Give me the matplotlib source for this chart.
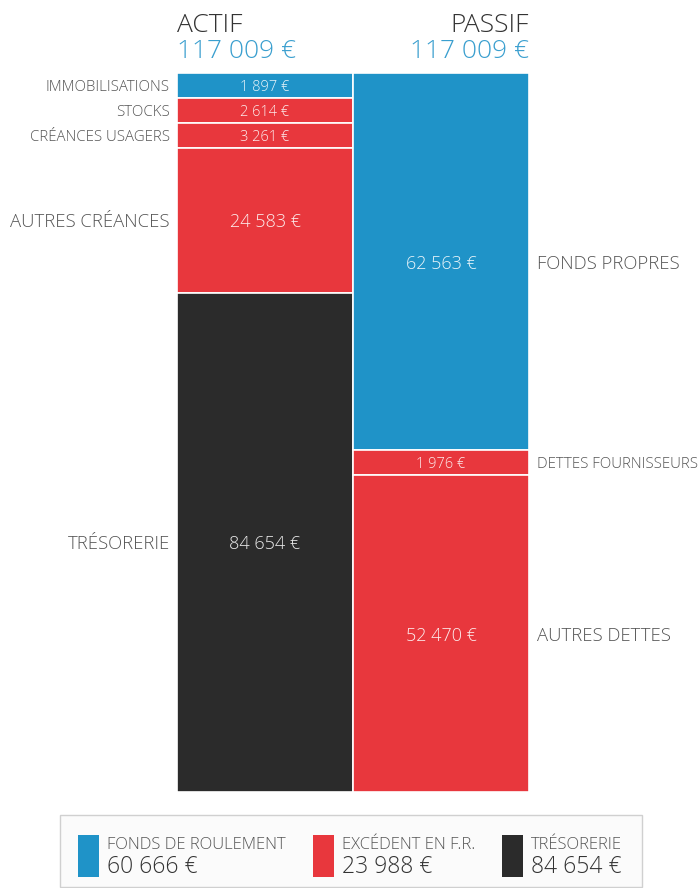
import matplotlib
matplotlib.use("Agg")
import matplotlib.pyplot as plt
from matplotlib.patches import Rectangle

plt.rcParams['font.family'] = ['Open Sans', 'DejaVu Sans']
plt.rcParams['font.weight'] = 'light'

# bilan data
actif_labels = ["IMMOBILISATIONS", "STOCKS", "CRÉANCES USAGERS", "AUTRES CRÉANCES", "TRÉSORERIE"]
actif_values = [1897, 2614, 3261, 24583, 84654]
actif_kinds = ["fr", "efr", "efr", "efr", "treso"]

passif_labels = ["FONDS PROPRES", "DETTES FOURNISSEURS", "AUTRES DETTES"]
passif_values = [62563, 1976, 52470]
passif_kinds = ["fr", "efr", "efr"]

legend_labels = ["FONDS DE ROULEMENT", "EXCÉDENT EN F.R.", "TRÉSORERIE"]
legend_values = [60666, 23988, 84654]
legend_kinds = ["fr", "efr", "treso"]

colors = {"fr": "#1f93c8", "efr": "#e8373d", "treso": "#2b2b2b"}
title_blue = "#3a9fcf"
grey = "#555555"


def fmt(v):
    return "{:,}".format(v).replace(",", " ") + " €"


def display_heights(values, min_frac=25 / 719):
    # small blocks get a minimum height, the rest share what is left
    total = sum(values)
    hmin = min_frac * total
    small = [v < hmin for v in values]
    rest = total - hmin * sum(small)
    big_sum = sum(v for v, s in zip(values, small) if not s)
    return [hmin if s else v * rest / big_sum for v, s in zip(values, small)]


W, H = 698, 888
fig = plt.figure(figsize=(W / 100, H / 100), dpi=100)
x0, x1, y_top, y_bot = 177, 529, 73, 792
ax = fig.add_axes([x0 / W, 1 - y_bot / H, (x1 - x0) / W, (y_bot - y_top) / H])

total = sum(actif_values)
ax.set_xlim(0, 2)
ax.set_ylim(total, 0)
ax.axis("off")


def column(xc, labels, values, kinds, side):
    heights = display_heights(values)
    bottom = 0
    for lab, v, k, h in zip(labels, values, kinds, heights):
        ax.bar(xc, h, bottom=bottom, width=1.0, color=colors[k],
               edgecolor="white", linewidth=1.2)
        small = h < 0.05 * total
        fs_in = 10.5 if small else 13
        fs_out = 10.8 if small else 13.3
        yc = bottom + h / 2
        ax.text(xc, yc, fmt(v), color="white", ha="center", va="center_baseline",
                fontsize=fs_in, alpha=0.9)
        if side == "left":
            ax.text(-0.04, yc, lab, ha="right", va="center_baseline", color=grey, fontsize=fs_out)
        else:
            ax.text(2.045, yc, lab, ha="left", va="center_baseline", color=grey, fontsize=fs_out)
        bottom += h


column(0.5, actif_labels, actif_values, actif_kinds, "left")
column(1.5, passif_labels, passif_values, passif_kinds, "right")

# column titles
fig.text(x0 / W, 1 - 25 / H, "ACTIF", ha="left", va="center", fontsize=19, color="#333333")
fig.text(x0 / W, 1 - 51 / H, fmt(sum(actif_values)), ha="left", va="center",
         fontsize=19, color=title_blue)
fig.text(x1 / W, 1 - 25 / H, "PASSIF", ha="right", va="center", fontsize=19, color="#333333")
fig.text(x1 / W, 1 - 51 / H, fmt(sum(passif_values)), ha="right", va="center",
         fontsize=19, color=title_blue)

# legend box
fig.add_artist(Rectangle((60 / W, 1 - 887 / H), 582 / W, 72 / H, transform=fig.transFigure,
                         facecolor="#fbfbfb", edgecolor="#d0d0d0", linewidth=1))
for i, (lab, v, k) in enumerate(zip(legend_labels, legend_values, legend_kinds)):
    sx = [78, 313, 502][i]
    fig.add_artist(Rectangle((sx / W, 1 - 877 / H), 21 / W, 42 / H, transform=fig.transFigure,
                             facecolor=colors[k], edgecolor="none"))
    fig.text((sx + 29) / W, 1 - 845 / H, lab, ha="left", va="center", fontsize=12, color=grey)
    fig.text((sx + 29) / W, 1 - 867 / H, fmt(v), ha="left", va="center", fontsize=16.5, color="#333333")

fig.savefig("out.png", dpi=100)
